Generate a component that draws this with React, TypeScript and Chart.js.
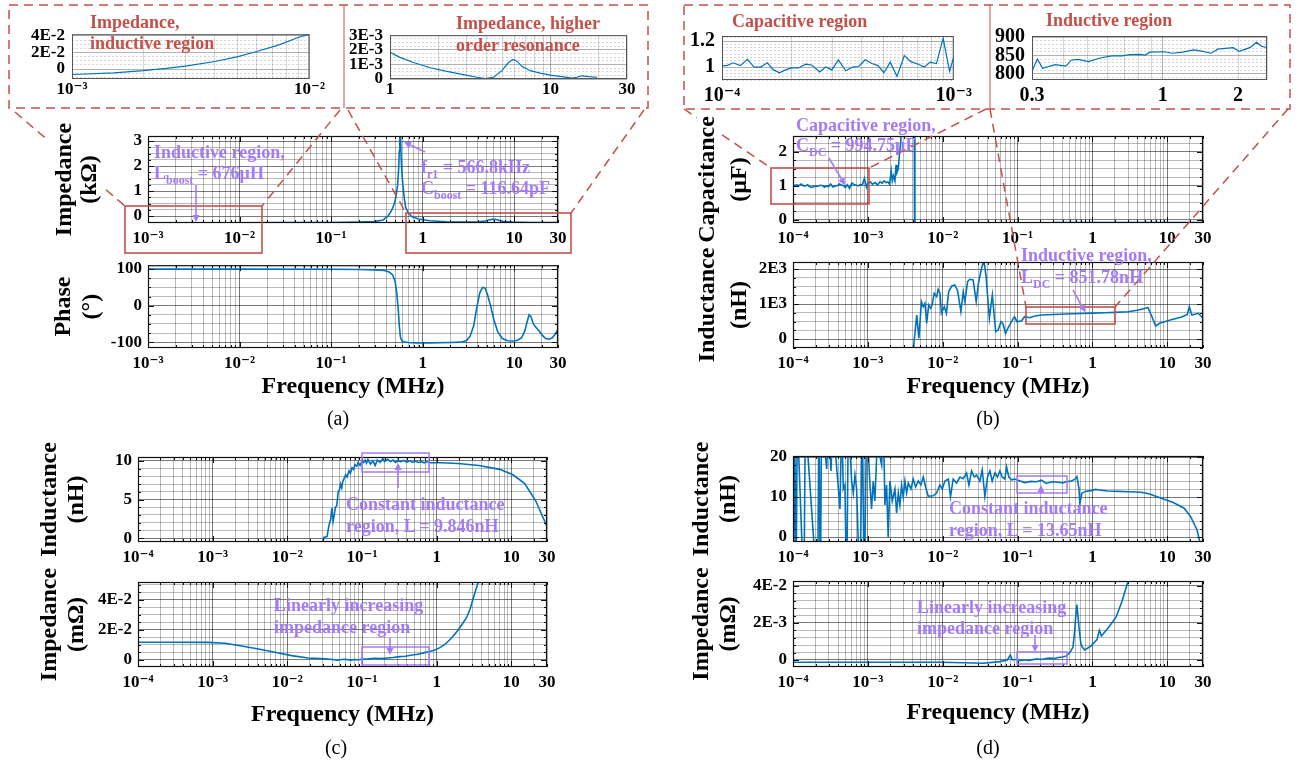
import React, { useEffect, useRef } from 'react';
import { Chart, registerables } from 'chart.js';

Chart.register(...registerables);

const SERIF = "'Liberation Serif', 'Times New Roman', 'DejaVu Serif', serif";
const BLUE = '#0072BD';
const RED = '#C4504A';
const VIOLET = '#A47BF6';

// ---------------- data (frequency in MHz) ----------------
// (a) impedance, kOhm
const aImpFreq = [0.001, 0.003, 0.01, 0.03, 0.1, 0.2, 0.29, 0.37, 0.42, 0.46, 0.49, 0.51, 0.53, 0.545, 0.555, 0.562, 0.567, 0.572, 0.58, 0.595, 0.61, 0.63, 0.65, 0.7, 0.77, 0.9, 1.2, 1.8, 3, 4, 4.8, 5.4, 5.9, 6.5, 7.5, 9.4, 15, 30];
const aImpVal = [-0.268, -0.268, -0.267, -0.265, -0.258, -0.245, -0.225, -0.16, 0.0, 0.24, 0.5, 0.77, 1.2, 1.84, 2.6, 3.3, 3.7, 3.3, 2.4, 1.6, 1.17, 0.7, 0.36, 0.1, -0.03, -0.12, -0.19, -0.23, -0.24, -0.235, -0.2, -0.15, -0.125, -0.15, -0.21, -0.245, -0.26, -0.265];
// (a) phase, degrees
const aPhaseFreq = [
  0.001, 0.01, 0.1, 0.2, 0.3, 0.38, 0.43, 0.47, 0.5, 0.52,
  0.54, 0.555, 0.57, 0.59, 0.62, 0.7, 0.85, 1.2, 2, 2.6,
  3.0, 3.3, 3.6, 3.9, 4.2, 4.5, 4.8, 5.1, 5.5, 6,
  6.6, 7.4, 8.5, 10, 11, 12, 13, 13.8, 14.5, 15.2,
  16, 17, 18.5, 20, 22, 24, 26, 28, 30];
const aPhaseVal = [
  100, 100, 99.5, 99, 98, 96, 92, 84, 66, 36,
  -10, -55, -85, -96, -99, -101, -102, -102, -101, -100,
  -96, -83, -55, -5, 35, 50, 48, 30, 0, -40,
  -72, -90, -96, -97, -94, -88, -70, -45, -25, -30,
  -48, -58, -68, -80, -90, -92, -88, -78, -64];
// inset: impedance, inductive region
const a1Freq = [0.001, 0.0015, 0.002, 0.0025, 0.003, 0.004, 0.005, 0.006, 0.0075, 0.009, 0.01];
const a1Val = [-0.0066, -0.0045, -0.0019, 0.0008, 0.0036, 0.0091, 0.015, 0.0212, 0.0295, 0.0383, 0.0418];
// inset: impedance, higher order resonance
const a2Freq = [1, 1.154, 1.4, 1.78, 2.26, 2.87, 3.48, 3.92, 4.42, 4.98, 5.48, 5.84, 6.18, 6.64, 7.48, 8.63, 9.96, 11.8, 13.6, 14.6, 15.7, 17.3, 19.5];
const a2Val = [0.00183, 0.00148, 0.00113, 0.00077, 0.00052, 0.0003, 0.00012, 0.00002, 0.00012, 0.00057, 0.00113, 0.00134, 0.00122, 0.00087, 0.00057, 0.0004, 0.00026, 0.00016, 0.00006, 0.00012, 0.00022, 0.00016, 0.00012];

// (b) capacitance, uF
const bCapFreq = [
  1.0e-4, 1.05e-4, 1.118e-4, 1.2e-4, 1.286e-4, 1.377e-4, 1.468e-4, 1.57e-4, 1.668e-4, 1.77e-4,
  1.88e-4, 1.996e-4, 2.137e-4, 2.296e-4, 2.437e-4, 2.64e-4, 2.8e-4, 2.98e-4, 3.18e-4, 3.42e-4,
  3.66e-4, 3.89e-4, 4.15e-4, 4.44e-4, 4.71e-4, 5.0e-4, 5.32e-4, 5.69e-4, 6.12e-4, 6.5e-4,
  7.03e-4, 7.46e-4, 7.92e-4, 8.42e-4, 9.0e-4, 9.6e-4, 1.0e-3,
  1.08e-3, 1.15e-3, 1.25e-3, 1.35e-3, 1.45e-3, 1.55e-3, 1.65e-3, 1.75e-3, 1.85e-3, 1.95e-3,
  2.05e-3, 2.12e-3, 2.2e-3, 2.3e-3, 2.38e-3, 2.45e-3, 2.55e-3, 2.65e-3, 2.75e-3, 2.9e-3,
  4.15e-3, 4.25e-3, 0.3, 0.32, 1, 30];
const bCapVal = [
  1.011, 1.011, 1.033, 1.011, 1.06, 1.0, 1.0, 1.033, 0.978, 0.956,
  0.978, 0.993, 0.993, 1.022, 1.016, 0.962, 1.0, 0.978, 1.056, 0.971,
  1.0, 1.004, 1.056, 1.027, 1.011, 0.956, 1.038, 0.927, 1.089, 1.044,
  1.022, 1.0, 1.038, 1.027, 1.222, 0.967, 1.078,
  1.12, 1.05, 1.1, 1.03, 1.12, 1.08, 1.15, 1.1, 1.12, 1.05,
  1.45, 1.15, 1.3, 1.15, 1.62, 1.4, 1.5, 1.97, 2.3, 3.5,
  6, -6, -3, -0.075, -0.075, -0.075];
// (b) inductance, nH
const bIndFreq = [
  4.05e-3, 4.5e-3, 4.8e-3, 5.2e-3, 5.5e-3, 5.8e-3, 6.1e-3, 6.5e-3, 6.9e-3, 7.2e-3,
  7.7e-3, 8.3e-3, 8.7e-3, 9.2e-3, 9.6e-3, 1.05e-2, 1.12e-2, 1.2e-2, 1.32e-2, 1.45e-2,
  1.58e-2, 1.75e-2, 1.88e-2, 1.98e-2, 2.15e-2, 2.3e-2, 2.55e-2, 2.8e-2, 3.0e-2, 3.3e-2,
  3.55e-2, 3.8e-2, 4.2e-2, 4.6e-2, 5.1e-2, 5.5e-2, 6.0e-2, 6.4e-2, 6.9e-2, 7.3e-2,
  8.3e-2, 9.1e-2, 9.8e-2, 0.113, 0.124, 0.145, 0.17, 0.21, 0.3, 0.45,
  0.7, 1, 1.5, 2, 3, 4, 5.1, 5.5, 6.2, 7.0,
  7.9, 11, 15.9, 18.5, 19.7, 21.3, 26, 30];
const bIndVal = [
  -300, 686, 20, 1066, 924, 1020, 448, 971, 877, 971,
  1305, 1209, 1420, 1305, 734, 924, 734, 1352, 1514, 1543,
  1380, 780, 1352, 1066, 1638, 1705, 1686, 1066, 1591, 2020,
  2250, 1780, 591, 1257, 209, 257, 494, 429, 163, 277,
  494, 637, 494, 523, 637, 609, 657, 686, 700, 715,
  730, 740, 750, 760, 780, 820, 877, 900, 650, 371,
  448, 543, 637, 700, 924, 686, 734, 591];
// inset: inductive region
const b2Freq = [0.3, 0.315, 0.331, 0.371, 0.41, 0.43, 0.459, 0.504, 0.561, 0.625, 0.686, 0.739, 0.81, 0.849, 0.889, 1.02, 1.09, 1.2, 1.33, 1.45, 1.56, 1.66, 1.91, 2.02, 2.24, 2.37, 2.48, 2.6];
const b2Val = [807, 840, 815, 825, 821, 837, 839, 833, 843, 849, 849, 852, 853, 851, 859, 860, 856, 859, 865, 861, 856, 867, 871, 861, 872, 886, 875, 872];

// (c) inductance, nH
const cIndFreq = [
  0.0299, 0.0308, 0.034, 0.036, 0.038, 0.0395, 0.041, 0.0425, 0.044, 0.046,
  0.0478, 0.05, 0.0517, 0.0535, 0.0552, 0.058, 0.0604, 0.063, 0.067, 0.07,
  0.0734, 0.077, 0.0803, 0.085, 0.089, 0.094, 0.0994, 0.105, 0.11, 0.115,
  0.12, 0.13, 0.14, 0.15, 0.16, 0.175, 0.19, 0.2, 0.22, 0.24,
  0.26, 0.28, 0.3, 0.33, 0.36, 0.4, 0.44, 0.48, 0.52, 0.57,
  0.62, 0.68, 0.74, 0.8, 1.16, 1.94, 3.67, 7.0, 10.5, 15,
  21, 30];
const cIndVal = [
  -0.5, 0.1, 0.2, 1.6, 2.4, 3.9, 2.2, 3.0, 4.0, 4.2,
  5.9, 6.3, 7.0, 6.5, 7.3, 7.8, 8.2, 7.9, 8.7, 8.4,
  9.1, 8.9, 9.5, 9.3, 9.8, 9.4, 9.9, 9.8, 10.1, 9.7,
  10.2, 9.6, 10.0, 9.4, 10.1, 9.8, 10.3, 9.9, 10.2, 9.9,
  10.1, 9.8, 10.0, 9.9, 10.05, 9.85, 10.0, 9.8, 9.95, 9.8,
  9.9, 9.75, 9.9, 9.75, 9.75, 9.65, 9.4, 8.9, 8.2, 7.1,
  4.9, 1.5];
// (c) impedance, mOhm
const cImpFreq = [
  1e-4, 3e-4, 8.7e-4, 1.46e-3, 2.44e-3, 4.1e-3, 6.8e-3, 1.14e-2, 1.9e-2, 3.2e-2,
  4.0e-2, 4.7e-2, 5.3e-2, 6.0e-2, 7.0e-2, 7.8e-2, 0.09, 0.1, 0.12, 0.149,
  0.18, 0.22, 0.26, 0.32, 0.38, 0.47, 0.56, 0.69, 0.8, 0.95,
  1.1, 1.3, 1.6, 1.94, 2.2, 2.5, 2.8, 3.04, 3.3, 3.6,
  3.9];
const cImpVal = [
  0.0118, 0.0118, 0.0117, 0.0111, 0.0093, 0.0073, 0.0051, 0.0029, 0.0013, 0.0007,
  0.0003, -0.0002, 0.0003, 0.0005, -0.0001, 0.0002, 0.0001, 0.0005, 0.0007, 0.0011,
  0.0009, 0.0013, 0.0016, 0.0022, 0.0025, 0.0033, 0.0038, 0.0049, 0.0057, 0.0067,
  0.0082, 0.0105, 0.015, 0.02, 0.024, 0.028, 0.034, 0.04, 0.046, 0.052,
  0.06];

// (d) inductance, nH
const dIndFreq = [
  1.0e-4, 1.01e-4, 1.053e-4, 1.097e-4, 1.142e-4, 1.4e-4, 1.46e-4, 2.13e-4, 2.22e-4, 2.32e-4,
  2.41e-4, 2.82e-4, 2.96e-4, 3.22e-4, 3.39e-4, 4.24e-4, 4.47e-4, 4.7e-4, 4.94e-4, 5.21e-4,
  5.48e-4, 6.07e-4, 6.39e-4, 6.73e-4, 7.08e-4, 7.84e-4, 8.43e-4, 8.96e-4, 9.63e-4, 1.067e-3,
  1.12e-3, 1.18e-3, 1.24e-3, 1.38e-3, 1.45e-3, 1.53e-3, 1.61e-3, 1.69e-3, 1.78e-3, 1.87e-3,
  1.97e-3, 2.12e-3, 2.3e-3, 2.42e-3, 2.55e-3, 2.68e-3, 2.82e-3, 2.97e-3, 3.13e-3, 3.29e-3,
  3.47e-3, 3.76e-3, 4.04e-3, 4.34e-3, 4.71e-3, 5.12e-3, 5.5e-3, 5.91e-3, 6.41e-3, 7.47e-3,
  8.28e-3, 9.18e-3, 9.86e-3, 1.07e-2, 1.19e-2, 1.27e-2, 1.38e-2, 1.53e-2, 1.7e-2, 1.88e-2,
  2.08e-2, 2.24e-2, 2.43e-2, 2.64e-2, 2.83e-2, 3.14e-2, 3.37e-2, 3.66e-2, 3.97e-2, 4.27e-2,
  4.58e-2, 4.98e-2, 5.4e-2, 5.8e-2, 6.24e-2, 6.77e-2, 7.12e-2, 7.65e-2, 8.31e-2, 9.2e-2,
  0.099, 0.125, 0.15, 0.18, 0.21, 0.24, 0.29, 0.35, 0.4, 0.45,
  0.52, 0.58, 0.62, 0.66, 0.68, 0.72, 0.8, 0.96, 1.1, 1.24,
  1.6, 2.2, 3.1, 4.5, 5.8, 8.3, 12, 16.8, 20.5, 25,
  27.2, 30];
const dIndVal = [
  18, -15, 30, -15, 30, -15, 30, -15, 30, -15,
  30, 17, 30, 16.5, 30, 7, 30, 12, 13, -15,
  30, 14, 11, 15.5, 12, -15, 30, -15, 30, 13,
  7, 14, 9, 30, 20, 18, 30, 8, 13, 0,
  14, 9, 12, 6, 11, 8, 13, 10, 14, 11,
  13.5, 12, 14.5, 12.5, 14, 13, 15, 12.5, 10.2, 10.3,
  11, 13, 12, 14, 14.5, 10, 14.5, 13.5, 15, 14.6,
  16, 13, 16.5, 15, 15.5, 14, 16.8, 10.1, 15, 16.5,
  14, 16, 15, 16.5, 15, 14.5, 17.5, 15, 14.3, 14.5,
  14.25, 13.6, 13.9, 13.8, 14.2, 13.4, 13.8, 13.7, 13.5, 13.8,
  14.0, 14.4, 15.1, 12.2, 8.4, 10.9, 11.4, 11.6, 11.9, 11.75,
  11.5, 11.4, 11.3, 11.2, 10.75, 9.7, 8.6, 7.2, 5.1, 1.75,
  -1.2, -8];
// (d) impedance, mOhm
const dImpFreq = [
  1e-4, 1e-3, 9.7e-3, 3.5e-2, 5.8e-2, 7.3e-2, 8e-2, 8.5e-2, 9.9e-2, 0.11,
  0.125, 0.14, 0.16, 0.18, 0.21, 0.24, 0.27, 0.31, 0.35, 0.4,
  0.45, 0.51, 0.55, 0.58, 0.6, 0.62, 0.64, 0.66, 0.7, 0.73,
  0.79, 0.96, 1.15, 1.24, 1.32, 1.6, 2.06, 2.5, 2.96, 3.2];
const dImpVal = [
  -0.00012, -0.00012, -0.00012, -0.00018, -0.00009, 0, 0.00027, 0, 0.00004, -0.00004,
  0.00001, -0.00003, 0.00002, 0.00005, 0.00003, 0.00008, 0.0001, 0.00008, 0.00013, 0.00016,
  0.00022, 0.00045, 0.0007, 0.0016, 0.0024, 0.003, 0.0024, 0.0018, 0.0009, 0.0007,
  0.00054, 0.00076, 0.0011, 0.0016, 0.0013, 0.0017, 0.0023, 0.0032, 0.0042, 0.0046];

// ---------------- tick labels ----------------
const xTicksA = [1e-3, 1e-2, 1e-1, 1, 10, 30];
const xLabelsA = ['10⁻³', '10⁻²', '10⁻¹', '1', '10', '30'];
const xTicksB = [1e-4, 1e-3, 1e-2, 1e-1, 1, 10, 30];
const xLabelsB = ['10⁻⁴', '10⁻³', '10⁻²', '10⁻¹', '1', '10', '30'];
const xTicksA1 = [1e-3, 1e-2];
const xLabelsA1 = ['10⁻³', '10⁻²'];
const xTicksA2 = [1, 10, 30];
const xLabelsA2 = ['1', '10', '30'];
const xTicksB1 = [1e-4, 1e-3];
const xLabelsB1 = ['10⁻⁴', '10⁻³'];
const xTicksB2 = [0.3, 1, 2];
const xLabelsB2 = ['0.3', '1', '2'];

const yTicksAImp = [0, 1, 2, 3];
const yLabelsAImp = ['0', '1', '2', '3'];
const yTicksAPh = [-100, 0, 100];
const yLabelsAPh = ['-100', '0', '100'];
const yTicksA1 = [0, 0.02, 0.04];
const yLabelsA1 = ['0', '2E-2', '4E-2'];
const yTicksA2 = [0, 0.001, 0.002, 0.003];
const yLabelsA2 = ['0', '1E-3', '2E-3', '3E-3'];
const yTicksBCap = [0, 1, 2];
const yLabelsBCap = ['0', '1', '2'];
const yTicksBInd = [0, 1000, 2000];
const yLabelsBInd = ['0', '1E3', '2E3'];
const yTicksB1 = [1, 1.2];
const yLabelsB1 = ['1', '1.2'];
const yTicksB2 = [800, 850, 900];
const yLabelsB2 = ['800', '850', '900'];
const yTicksCInd = [0, 5, 10];
const yLabelsCInd = ['0', '5', '10'];
const yTicksCImp = [0, 0.02, 0.04];
const yLabelsCImp = ['0', '2E-2', '4E-2'];
const yTicksDInd = [0, 10, 20];
const yLabelsDInd = ['0', '10', '20'];
const yTicksDImp = [0, 0.002, 0.004];
const yLabelsDImp = ['0', '2E-3', '4E-2'];

// ---------------- layout specs ----------------
type Spec = {
  L: number; T: number; R: number; B: number;
  CL: number; padT: number; padB: number; padR: number;
  x: [number, number]; xTicks: number[]; xLabels: string[];
  y: [number, number]; yTicks: number[]; yLabels: string[]; yStep: number;
  f: number[]; v: number[];
  tickSize: number; xPad: number; yPad: number; inset: boolean;
  yTitle?: string[]; yTitleX?: number; yTitleLH?: number;
  xTitle?: string; xTitleY?: number;
};

const FREQ = 'Frequency (MHz)';

const specs: Spec[] = [
  { L: 148, T: 136, R: 558, B: 223, CL: 0, padT: 18, padB: 32, padR: 22, x: [1e-3, 30], xTicks: xTicksA, xLabels: xLabelsA,
    y: [-0.28, 3.2], yTicks: yTicksAImp, yLabels: yLabelsAImp, yStep: 0.25, f: aImpFreq, v: aImpVal,
    tickSize: 17, xPad: 5, yPad: 6, inset: false, yTitle: ['Impedance', '(kΩ)'], yTitleX: 65, yTitleLH: 25 },
  { L: 148, T: 263, R: 558, B: 348, CL: 0, padT: 14, padB: 56, padR: 22, x: [1e-3, 30], xTicks: xTicksA, xLabels: xLabelsA,
    y: [-116, 110.7], yTicks: yTicksAPh, yLabels: yLabelsAPh, yStep: 25, f: aPhaseFreq, v: aPhaseVal,
    tickSize: 17, xPad: 5, yPad: 6, inset: false, yTitle: ['Phase', '(°)'], yTitleX: 64, yTitleLH: 28, xTitle: FREQ, xTitleY: 387 },
  { L: 793, T: 136, R: 1203, B: 223, CL: 680, padT: 30, padB: 32, padR: 25, x: [1e-4, 30], xTicks: xTicksB, xLabels: xLabelsB,
    y: [-0.09, 2.47], yTicks: yTicksBCap, yLabels: yLabelsBCap, yStep: 0.25, f: bCapFreq, v: bCapVal,
    tickSize: 17, xPad: 5, yPad: 6, inset: false, yTitle: ['Capacitance', '(µF)'], yTitleX: 708, yTitleLH: 32 },
  { L: 793, T: 262, R: 1203, B: 348, CL: 680, padT: 18, padB: 56, padR: 25, x: [1e-4, 30], xTicks: xTicksB, xLabels: xLabelsB,
    y: [-257, 2200], yTicks: yTicksBInd, yLabels: yLabelsBInd, yStep: 250, f: bIndFreq, v: bIndVal,
    tickSize: 17, xPad: 5, yPad: 6, inset: false, yTitle: ['Inductance', '(nH)'], yTitleX: 708, yTitleLH: 32, xTitle: FREQ, xTitleY: 387 },
  { L: 138, T: 457, R: 547, B: 542, CL: 0, padT: 18, padB: 32, padR: 25, x: [1e-4, 30], xTicks: xTicksB, xLabels: xLabelsB,
    y: [-0.5, 10.5], yTicks: yTicksCInd, yLabels: yLabelsCInd, yStep: 1, f: cIndFreq, v: cIndVal,
    tickSize: 17, xPad: 5, yPad: 6, inset: false, yTitle: ['Inductance', '(nH)'], yTitleX: 50, yTitleLH: 27 },
  { L: 138, T: 582, R: 547, B: 667, CL: 0, padT: 18, padB: 62, padR: 25, x: [1e-4, 30], xTicks: xTicksB, xLabels: xLabelsB,
    y: [-0.0047, 0.052], yTicks: yTicksCImp, yLabels: yLabelsCImp, yStep: 0.005, f: cImpFreq, v: cImpVal,
    tickSize: 17, xPad: 5, yPad: 6, inset: false, yTitle: ['Impedance', '(mΩ)'], yTitleX: 50, yTitleLH: 27, xTitle: FREQ, xTitleY: 715 },
  { L: 793, T: 456, R: 1203, B: 542, CL: 680, padT: 18, padB: 32, padR: 25, x: [1e-4, 30], xTicks: xTicksB, xLabels: xLabelsB,
    y: [-1.25, 20.25], yTicks: yTicksDInd, yLabels: yLabelsDInd, yStep: 2, f: dIndFreq, v: dIndVal,
    tickSize: 17, xPad: 5, yPad: 6, inset: false, yTitle: ['Inductance', '(nH)'], yTitleX: 702, yTitleLH: 27 },
  { L: 793, T: 581, R: 1203, B: 667, CL: 680, padT: 18, padB: 62, padR: 25, x: [1e-4, 30], xTicks: xTicksB, xLabels: xLabelsB,
    y: [-0.00038, 0.00427], yTicks: yTicksDImp, yLabels: yLabelsDImp, yStep: 0.0004, f: dImpFreq, v: dImpVal,
    tickSize: 17, xPad: 5, yPad: 6, inset: false, yTitle: ['Impedance', '(mΩ)'], yTitleX: 702, yTitleLH: 27, xTitle: FREQ, xTitleY: 713 },
  // insets
  { L: 72, T: 29, R: 311, B: 79, CL: 10, padT: 12, padB: 22, padR: 14, x: [1e-3, 1e-2], xTicks: xTicksA1, xLabels: xLabelsA1,
    y: [-0.012, 0.042], yTicks: yTicksA1, yLabels: yLabelsA1, yStep: 0.005, f: a1Freq, v: a1Val,
    tickSize: 17, xPad: 0, yPad: 7, inset: true },
  { L: 390, T: 30, R: 627, B: 79, CL: 348, padT: 12, padB: 22, padR: 14, x: [1, 30], xTicks: xTicksA2, xLabels: xLabelsA2,
    y: [0, 0.003], yTicks: yTicksA2, yLabels: yLabelsA2, yStep: 0.00025, f: a2Freq, v: a2Val,
    tickSize: 17, xPad: 0, yPad: 7, inset: true },
  { L: 722, T: 29, R: 962, B: 80, CL: 688, padT: 12, padB: 28, padR: 14, x: [1e-4, 1e-3], xTicks: xTicksB1, xLabels: xLabelsB1,
    y: [0.9, 1.24], yTicks: yTicksB1, yLabels: yLabelsB1, yStep: 0.025, f: bCapFreq, v: bCapVal,
    tickSize: 20, xPad: 4, yPad: 7, inset: true },
  { L: 1032, T: 29, R: 1267, B: 80, CL: 994, padT: 12, padB: 28, padR: 16, x: [0.3, 2.61], xTicks: xTicksB2, xLabels: xLabelsB2,
    y: [783, 903], yTicks: yTicksB2, yLabels: yLabelsB2, yStep: 10, f: b2Freq, v: b2Val,
    tickSize: 20, xPad: 4, yPad: 7, inset: true },
];

// ---------------- helpers ----------------
function near(a: number, b: number, tol: number) { return Math.abs(a - b) <= tol; }

function logGrid(min: number, max: number): number[] {
  const out: number[] = [];
  const e0 = Math.floor(Math.log10(min) + 1e-9);
  const e1 = Math.ceil(Math.log10(max) - 1e-9);
  for (let e = e0; e <= e1; e++) {
    for (let m = 1; m <= 9; m++) {
      const v = parseFloat((m * Math.pow(10, e)).toPrecision(12));
      if (v >= min * (1 - 1e-9) && v <= max * (1 + 1e-9)) out.push(v);
    }
  }
  if (!out.some(v => near(v, min, min * 1e-9))) out.unshift(min);
  if (!out.some(v => near(v, max, max * 1e-9))) out.push(max);
  return out;
}

function linGrid(min: number, max: number, step: number): number[] {
  const out: number[] = [];
  for (let k = Math.ceil(min / step - 1e-9); k * step <= max + step * 1e-9; k++) {
    out.push(parseFloat((k * step).toPrecision(12)));
  }
  return out;
}

function isDecade(v: number) {
  const l = Math.log10(v);
  return Math.abs(l - Math.round(l)) < 1e-6;
}

const framePlugin = {
  id: 'frame',
  afterDraw(chart: any, _args: any, opts: any) {
    const { ctx, chartArea: a } = chart;
    ctx.save();
    ctx.strokeStyle = opts.color;
    ctx.lineWidth = opts.width;
    ctx.strokeRect(a.left + 0.5, a.top + 0.5, a.right - a.left - 1, a.bottom - a.top - 1);
    if (opts.ticks) {
      const xs = chart.scales.x;
      const ys = chart.scales.y;
      ctx.lineWidth = 1;
      ctx.beginPath();
      xs.ticks.forEach((t: any) => {
        const p = Math.round(xs.getPixelForValue(t.value)) + 0.5;
        const len = isDecade(t.value) ? 6 : 3;
        ctx.moveTo(p, a.bottom); ctx.lineTo(p, a.bottom - len);
        ctx.moveTo(p, a.top); ctx.lineTo(p, a.top + len);
      });
      ys.ticks.forEach((t: any) => {
        const p = Math.round(ys.getPixelForValue(t.value)) + 0.5;
        const len = t.label ? 6 : 3;
        ctx.moveTo(a.left, p); ctx.lineTo(a.left + len, p);
        ctx.moveTo(a.right, p); ctx.lineTo(a.right - len, p);
      });
      ctx.stroke();
    }
    ctx.restore();
  },
};

function makeConfig(s: Spec): any {
  const xGrid = logGrid(s.x[0], s.x[1]);
  const yGrid = linGrid(s.y[0], s.y[1], s.yStep);
  const yTol = s.yStep * 1e-4;
  const xLab = (v: number) => {
    const i = s.xTicks.findIndex(t => near(t, v, t * 1e-6));
    return i >= 0 ? s.xLabels[i] : '';
  };
  const yIsMajor = (v: number) => s.yTicks.some(t => near(t, v, yTol));
  const yLab = (v: number) => {
    const i = s.yTicks.findIndex(t => near(t, v, yTol));
    return i >= 0 ? s.yLabels[i] : '';
  };
  const major = s.inset ? 'rgba(0,0,0,0.30)' : 'rgba(0,0,0,0.52)';
  const minor = s.inset ? 'rgba(0,0,0,0.16)' : 'rgba(0,0,0,0.27)';
  const tickFont = { family: SERIF, size: s.tickSize, weight: 'bold' };
  const canvasBottom = s.B + s.padB;
  const titleLH = 24 * 1.05;
  const yLH = s.yTitleLH || 26;
  return {
    type: 'line',
    data: {
      datasets: [{
        data: s.f.map((f, i) => ({ x: f, y: s.v[i] })),
        borderColor: BLUE,
        borderWidth: s.inset ? 1.2 : 1.6,
        pointRadius: 0,
        tension: 0,
        fill: false,
      }],
    },
    options: {
      animation: false,
      responsive: false,
      maintainAspectRatio: false,
      devicePixelRatio: 1,
      events: [],
      layout: { padding: { left: 0, top: s.padT, right: s.padR, bottom: 0 } },
      plugins: {
        legend: { display: false },
        tooltip: { enabled: false },
        frame: { color: s.inset ? '#555' : '#111', width: s.inset ? 1 : 1.2, ticks: !s.inset },
      },
      scales: {
        x: {
          type: 'logarithmic',
          min: s.x[0],
          max: s.x[1],
          bounds: 'data',
          afterBuildTicks: (sc: any) => { sc.ticks = xGrid.map(v => ({ value: v })); },
          afterFit: (sc: any) => { sc.height = s.padB; },
          ticks: {
            autoSkip: false, maxRotation: 0, minRotation: 0, padding: s.xPad,
            color: '#000', font: tickFont,
            callback: (v: any) => xLab(Number(v)),
          },
          grid: {
            drawTicks: false,
            lineWidth: 1,
            color: (ctx: any) => (ctx.tick && isDecade(ctx.tick.value) ? major : minor),
          },
          border: { display: false },
          title: s.xTitle ? {
            display: true, text: s.xTitle, color: '#000',
            font: { family: SERIF, size: 24, weight: 'bold', lineHeight: 1.05 },
            padding: { top: 0, bottom: Math.max(0, canvasBottom - (s.xTitleY || 0) - titleLH / 2) },
          } : { display: false },
        },
        y: {
          type: 'linear',
          min: s.y[0],
          max: s.y[1],
          bounds: 'data',
          afterBuildTicks: (sc: any) => { sc.ticks = yGrid.map(v => ({ value: v })); },
          afterFit: (sc: any) => { sc.width = s.L - s.CL; },
          ticks: {
            autoSkip: false, padding: s.yPad, color: '#000', font: tickFont,
            callback: (v: any) => yLab(Number(v)),
          },
          grid: {
            drawTicks: false,
            lineWidth: 1,
            color: (ctx: any) => (ctx.tick && yIsMajor(ctx.tick.value) ? major : minor),
          },
          border: {
            display: false,
            dash: (ctx: any) => (s.inset && ctx.tick && !yIsMajor(ctx.tick.value) ? [2, 2] : []),
          },
          title: s.yTitle ? {
            display: true, text: s.yTitle, color: '#000',
            font: { family: SERIF, size: 24, weight: 'bold', lineHeight: yLH / 24 },
            padding: { top: (s.yTitleX || 0) - s.CL - yLH / 2, bottom: 0 },
          } : { display: false },
        },
      },
    },
    plugins: [framePlugin],
  };
}

function ChartBox({ s }: { s: Spec }) {
  const ref = useRef<HTMLCanvasElement | null>(null);
  const w = s.R - s.CL + s.padR;
  const h = s.B - s.T + s.padT + s.padB;
  useEffect(() => {
    if (!ref.current) return;
    const c = new Chart(ref.current, makeConfig(s));
    return () => c.destroy();
  }, []);
  return (
    <canvas
      ref={ref}
      width={w}
      height={h}
      style={{ position: 'absolute', left: s.CL, top: s.T - s.padT, width: w, height: h, zIndex: 1 }}
    />
  );
}

function Arrow({ x1, y1, x2, y2 }: { x1: number; y1: number; x2: number; y2: number }) {
  const ang = Math.atan2(y2 - y1, x2 - x1);
  const hl = 7, hw = 3.5;
  const bx = x2 - hl * Math.cos(ang), by = y2 - hl * Math.sin(ang);
  const px = -Math.sin(ang) * hw, py = Math.cos(ang) * hw;
  return (
    <g>
      <line x1={x1} y1={y1} x2={bx} y2={by} stroke={VIOLET} strokeWidth={1.6} />
      <polygon points={`${x2},${y2} ${bx + px},${by + py} ${bx - px},${by - py}`} fill={VIOLET} />
    </g>
  );
}

function VText({ x, y, children }: { x: number; y: number; children: any }) {
  return <text x={x} y={y} fill={VIOLET} fontSize={18} fontWeight="bold">{children}</text>;
}

function SubText({ x, y, a, sub, b }: { x: number; y: number; a: string; sub: string; b: string }) {
  return (
    <text x={x} y={y} fill={VIOLET} fontSize={18} fontWeight="bold">
      {a}<tspan dy={5} fontSize={12}>{sub}</tspan><tspan dy={-5}>{b}</tspan>
    </text>
  );
}

function RText({ x, y, children }: { x: number; y: number; children: any }) {
  return <text x={x} y={y} fill={RED} fontSize={18} fontWeight="bold">{children}</text>;
}

function Overlay() {
  const dash = { stroke: RED, strokeWidth: 1.5, strokeDasharray: '9 6', fill: 'none' } as any;
  const solid = { stroke: RED, strokeWidth: 1.6, fill: 'none' } as any;
  const vbox = { stroke: VIOLET, strokeWidth: 1.5, fill: 'none' } as any;
  return (
    <svg width={1299} height={762} style={{ position: 'absolute', left: 0, top: 0, zIndex: 2, pointerEvents: 'none' }} fontFamily={SERIF}>
      {/* inset frames */}
      <rect x={9} y={5} width={639} height={103} {...dash} />
      <line x1={344} y1={5} x2={344} y2={108} stroke={RED} strokeWidth={1} />
      <rect x={684} y={5} width={606} height={104} {...dash} />
      <line x1={990} y1={5} x2={990} y2={109} stroke={RED} strokeWidth={1} />
      {/* connectors (a) */}
      <line x1={15} y1={112} x2={46} y2={138.5} {...dash} />
      <line x1={106} y1={189.7} x2={125} y2={206} {...dash} />
      <line x1={340} y1={110} x2={262} y2={206} {...dash} />
      <line x1={348} y1={110} x2={406} y2={213} {...dash} />
      <line x1={644} y1={110} x2={571} y2={213} {...dash} />
      {/* connectors (b) */}
      <line x1={684} y1={109} x2={697} y2={117.8} {...dash} />
      <line x1={722} y1={134.8} x2={771} y2={168} {...dash} />
      <line x1={986} y1={109} x2={869} y2={168} {...dash} />
      <line x1={990} y1={109} x2={1026} y2={307} {...dash} />
      <line x1={1288} y1={109} x2={1115} y2={307} {...dash} />
      {/* red highlight rectangles */}
      <rect x={125} y={206} width={137} height={47} {...solid} />
      <rect x={406} y={213} width={165} height={40} {...solid} />
      <rect x={771} y={168} width={98} height={36} {...solid} />
      <rect x={1026} y={307} width={89} height={17} {...solid} />
      {/* violet boxes */}
      <rect x={362} y={453} width={67} height={19} {...vbox} />
      <rect x={362} y={647} width={67} height={18} {...vbox} />
      <rect x={1017} y={476} width={50} height={17} {...vbox} />
      <rect x={1017} y={652} width={50} height={12} {...vbox} />
      {/* arrows */}
      <Arrow x1={196} y1={185} x2={196} y2={222} />
      <Arrow x1={425} y1={152} x2={404} y2={142} />
      <Arrow x1={829} y1={158} x2={845} y2={185} />
      <Arrow x1={1073} y1={290} x2={1085} y2={312} />
      <Arrow x1={398} y1={488} x2={398} y2={463} />
      <Arrow x1={390} y1={638} x2={390} y2={655} />
      <Arrow x1={1041} y1={494} x2={1041} y2={485} />
      <Arrow x1={1035} y1={635} x2={1035} y2={652} />
      {/* annotations */}
      <VText x={154} y={158}>Inductive region,</VText>
      <SubText x={154} y={179} a="L" sub="boost" b=" = 676µH" />
      <SubText x={421} y={173} a="f" sub="r1" b=" = 566.8kHz" />
      <SubText x={421} y={194} a="C" sub="boost" b=" = 116.64pF" />
      <VText x={796} y={131}>Capacitive region,</VText>
      <SubText x={796} y={151} a="C" sub="DC" b=" = 994.75µF" />
      <VText x={1021} y={261}>Inductive region,</VText>
      <SubText x={1021} y={283} a="L" sub="DC" b=" = 851.78nH" />
      <VText x={346} y={510}>Constant inductance</VText>
      <VText x={346} y={532}>region, L = 9.846nH</VText>
      <VText x={274} y={611}>Linearly increasing</VText>
      <VText x={274} y={633}>impedance region</VText>
      <VText x={949} y={514}>Constant inductance</VText>
      <VText x={949} y={536}>region, L = 13.65nH</VText>
      <VText x={917} y={613}>Linearly increasing</VText>
      <VText x={917} y={634}>impedance region</VText>
      {/* inset titles */}
      <RText x={90} y={28}>Impedance,</RText>
      <RText x={90} y={49}>inductive region</RText>
      <RText x={456} y={29}>Impedance, higher</RText>
      <RText x={456} y={51}>order resonance</RText>
      <RText x={732} y={27}>Capacitive region</RText>
      <RText x={1046} y={26}>Inductive region</RText>
      {/* captions */}
      <text x={338} y={425} fontSize={20} textAnchor="middle" fill="#000">(a)</text>
      <text x={988} y={425} fontSize={20} textAnchor="middle" fill="#000">(b)</text>
      <text x={336} y={754} fontSize={20} textAnchor="middle" fill="#000">(c)</text>
      <text x={988} y={754} fontSize={20} textAnchor="middle" fill="#000">(d)</text>
    </svg>
  );
}

export default function App() {
  return (
    <div style={{ position: 'fixed', left: 0, top: 0, width: 1299, height: 762, background: '#fff', overflow: 'hidden' }}>
      {specs.map((s, i) => <ChartBox key={i} s={s} />)}
      <Overlay />
    </div>
  );
}
